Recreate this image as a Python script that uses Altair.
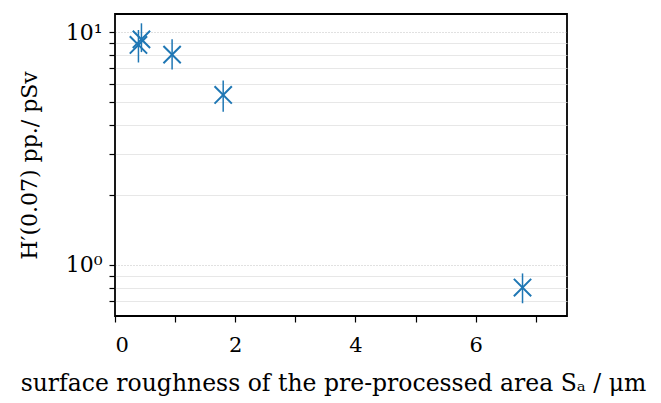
import altair as alt
import pandas as pd

roughness = [0.39, 0.44, 0.95, 1.80, 6.78]
h_value = [8.8, 9.3, 8.0, 5.37, 0.80]
h_low = [7.4, 8.2, 6.9, 4.55, 0.685]
h_high = [10.2, 10.9, 9.3, 6.2, 0.92]

y_ticks = [0.6, 0.7, 0.8, 0.9, 1, 2, 3, 4, 5, 6, 7, 8, 9, 10]
x_ticks = [i * 0.5 for i in range(16)]

df = pd.DataFrame({"x": roughness, "y": h_value, "lo": h_low, "hi": h_high})

color = "#1f77b4"
FONT = "DejaVu Serif"

xscale = alt.Scale(domain=[0, 7.52], nice=False, zero=False)
yscale = alt.Scale(type="log", domain=[0.604, 11.95], nice=False)

xaxis = alt.Axis(
    values=x_ticks,
    labelExpr="datum.value % 2 == 0 ? datum.value : ''",
    title="surface roughness of the pre-processed area Sₐ / μm",
    grid=False,
    tickColor="black",
    tickSize=6,
    tickWidth=1.2,
    labelFont=FONT,
    labelFontSize=21,
    labelColor="black",
    labelPadding=12,
    titleFont=FONT,
    titleFontSize=23.5,
    titleFontWeight="normal",
    titleColor="black",
    titlePadding=16,
    titleX=218,
    domain=False,
)

yaxis = alt.Axis(
    values=y_ticks,
    labelExpr="datum.value == 1 ? '10⁰' : (datum.value == 10 ? '10¹' : '')",
    title="H′(0.07) pp./ pSv",
    grid=True,
    gridColor={"condition": {"test": "datum.value == 1 || datum.value == 10", "value": "#aaaaaa"}, "value": "#dddddd"},
    gridDash={"condition": {"test": "datum.value == 1 || datum.value == 10", "value": [1, 2]}, "value": []},
    gridWidth=0.7,
    tickColor="black",
    tickSize=6,
    tickWidth=1.2,
    labelFont=FONT,
    labelFontSize=22,
    labelColor="black",
    labelPadding=7,
    titleFont=FONT,
    titleFontSize=22,
    titleFontWeight="normal",
    titleColor="black",
    titlePadding=24,
    domain=False,
)

base = alt.Chart(df)

bars = base.mark_rule(color=color, strokeWidth=1.5).encode(
    x=alt.X("x:Q", scale=xscale, axis=xaxis),
    y=alt.Y("lo:Q", scale=yscale, axis=yaxis),
    y2="hi:Q",
)

points = base.mark_point(
    shape="M-1,-1L1,1M-1,1L1,-1",
    filled=False,
    color=color,
    strokeWidth=2,
    size=300,
    opacity=1,
).encode(
    x=alt.X("x:Q", scale=xscale),
    y=alt.Y("y:Q", scale=yscale),
)

chart = (
    alt.layer(bars, points)
    .properties(
        width=452,
        height=302,
        background="white",
        autosize=alt.AutoSizeParams(type="none"),
        padding={"left": 107, "top": 6, "right": 80, "bottom": 90},
    )
    .configure_view(stroke="black", strokeWidth=1.8)
)

chart.save("out.html", embed_options={"renderer": "svg", "actions": False})
